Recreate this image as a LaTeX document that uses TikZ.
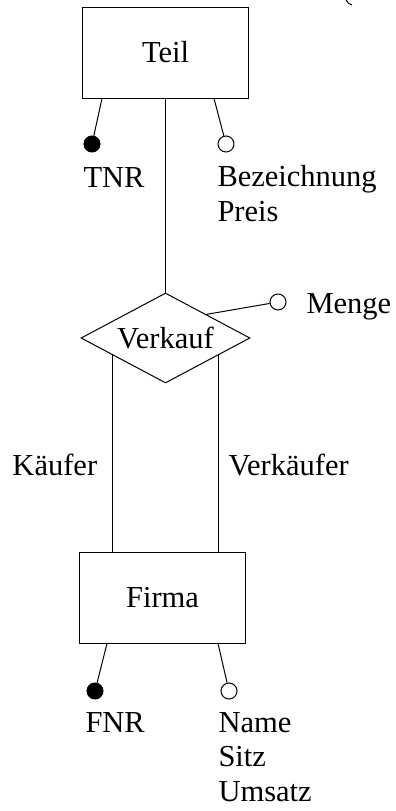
\documentclass[tikz,border=0pt]{standalone}
\usepackage{fontspec}
\setmainfont{Liberation Serif}
\usetikzlibrary{shapes.geometric,calc}

\begin{document}
\begin{tikzpicture}[x=1pt,y=-1pt,line width=1pt,
    every node/.style={font=\fontsize{30.5}{34.5}\selectfont},
    entity/.style={draw,rectangle,minimum width=166pt,minimum height=91pt,inner sep=0pt},
    relation/.style={draw,diamond,aspect=1.88,minimum width=169pt,minimum height=90pt,inner sep=0pt},
    keyattr/.style={draw,circle,fill=black,minimum size=16pt,inner sep=0pt},
    attr/.style={draw,circle,fill=white,minimum size=16pt,inner sep=0pt},
    lbl/.style={anchor=base west,inner sep=0pt,align=left}]
            \useasboundingbox (0,0) rectangle (396,811);

            % entities and the relationship
            \node[entity] (teil) at (165.5,52.5) {Teil};
            \node[relation] (verkauf) at (165.5,338) {Verkauf};
            \node[entity] (firma) at (162.5,597.5) {Firma};

            % attribute circles
            \node[keyattr] (tnr) at (92,144) {};
            \node[attr] (bez) at (226,144) {};
            \node[attr] (menge) at (278,302) {};
            \node[keyattr] (fnr) at (95,691) {};
            \node[attr] (name) at (229,691) {};

            % attribute lines
            \draw ($(teil.south west)+(20,0)$) -- (tnr);
            \draw ($(teil.south east)+(-35,0)$) -- (bez);
            \draw (verkauf.30) -- (menge);
            \draw ($(firma.south west)+(28,0)$) -- (fnr);
            \draw ($(firma.south east)+(-28,0)$) -- (name);

            % roles
            \draw (teil.south) -- (verkauf.north);
            \draw (verkauf.198) -- (verkauf.198 |- firma.north);
            \draw (verkauf.342) -- (verkauf.342 |- firma.north);

            % text (base of a multi-line node is its last line)
            \node[lbl] (tnrlbl) at (83,187) {TNR};
            \node[lbl] (bezlbl) at (217,221) {Bezeichnung\\Preis};
            \node[lbl] (mengelbl) at (306,313) {Menge};
            \node[lbl] (kaeufer) at (12,475) {Käufer};
            \node[lbl] (verkaeufer) at (228,475) {Verkäufer};
            \node[lbl] (fnrlbl) at (85,732) {FNR};
            \node[lbl] (namelbl) at (218,801) {Name\\Sitz\\Umsatz};

            % cut-off arc in the corner
            \draw (346,0) .. controls (348,3) .. (352,5);
\end{tikzpicture}
\end{document}
